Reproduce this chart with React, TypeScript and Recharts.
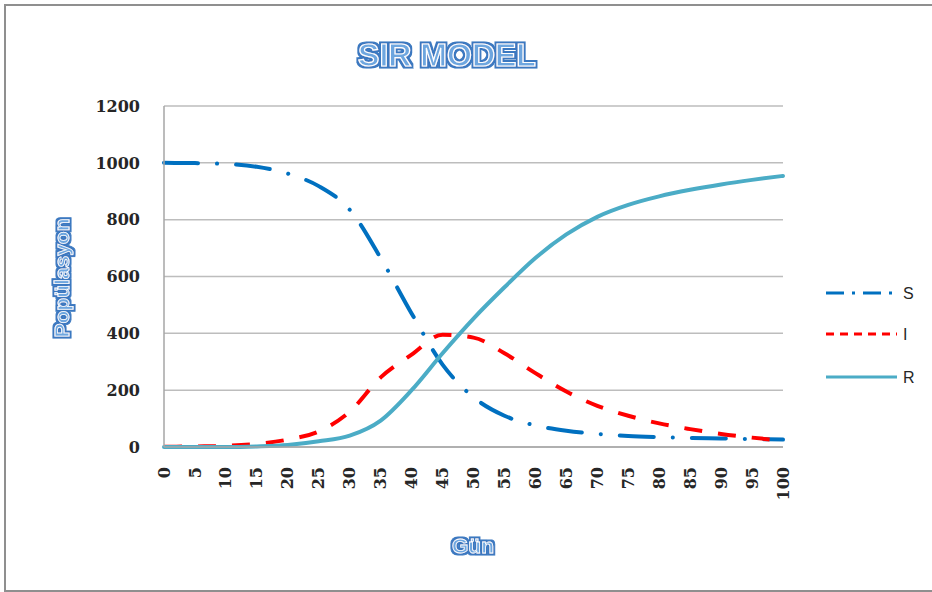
import { LineChart, Line, XAxis, YAxis, CartesianGrid } from "recharts";

const DAYS = [0, 5, 10, 15, 20, 25, 30, 35, 40, 45, 50, 55, 60, 65, 70, 75, 80, 85, 90, 95, 100];
const S_VALUES = [1000, 999, 996, 986, 962, 918, 835, 665, 470, 290, 175, 110, 76, 57, 46, 39, 35, 32, 30, 28, 26];
const I_VALUES = [1, 2, 4, 11, 26, 55, 124, 245, 325, 395, 385, 330, 260, 195, 145, 110, 83, 63, 46, 33, 22];
const R_VALUES = [0, 0, 0, 2, 7, 20, 40, 93, 200, 330, 452, 562, 665, 748, 810, 852, 882, 905, 924, 940, 954];
const Y_TICKS = [0, 200, 400, 600, 800, 1000, 1200];

const data = DAYS.map((day, i) => ({ day, S: S_VALUES[i], I: I_VALUES[i], R: R_VALUES[i] }));

const SERIES = [
  { key: "S", color: "#0070c0", dash: "34 19 0.1 19", cap: "round" as const, legendDash: "18 8 3 8" },
  { key: "I", color: "#ff0000", dash: "18 16", cap: "butt" as const, legendDash: "8 6" },
  { key: "R", color: "#4bacc6", dash: undefined, cap: "round" as const, legendDash: undefined },
];

const TICK_FONT = "'DejaVu Serif', serif";
const LABEL_FONT = "'Liberation Sans', Arial, sans-serif";

function XTick(props: { x?: number; y?: number; payload?: { value?: number } }) {
  const { x = 0, y = 0, payload } = props;
  return (
    <text
      x={x}
      y={y}
      dy="0.35em"
      transform={`rotate(-90 ${x} ${y})`}
      textAnchor="end"
      fill="#262626"
      fontSize={16}
      fontWeight={700}
      fontFamily={TICK_FONT}
    >
      {payload?.value}
    </text>
  );
}

function Overlay() {
  const legendY = [293, 334, 377];
  return (
    <svg width={932} height={592} style={{ position: "absolute", left: 0, top: 0, pointerEvents: "none" }}>
      <defs>
        <filter id="outline" x="-10%" y="-30%" width="120%" height="160%">
          <feMorphology in="SourceAlpha" operator="dilate" radius="1.6" result="d" />
          <feFlood floodColor="#3b78c0" />
          <feComposite in2="d" operator="in" result="o" />
          <feGaussianBlur in="o" stdDeviation="0.7" result="ob" />
          <feMerge>
            <feMergeNode in="ob" />
            <feMergeNode in="SourceGraphic" />
          </feMerge>
        </filter>
      </defs>
      <text
        x={447}
        y={66}
        textAnchor="middle"
        fontFamily={LABEL_FONT}
        fontWeight={700}
        fontSize={32}
        fill="#6ea6df"
        stroke="#ffffff"
        strokeWidth={1.2}
        filter="url(#outline)"
      >
        SIR MODEL
      </text>
      <text
        x={0}
        y={0}
        transform="translate(69 278) rotate(-90)"
        textAnchor="middle"
        fontFamily={LABEL_FONT}
        fontWeight={700}
        fontSize={21}
        fill="#6ea6df"
        stroke="#ffffff"
        strokeWidth={0.8}
        filter="url(#outline)"
      >
        Popülasyon
      </text>
      <text
        x={473}
        y={553}
        textAnchor="middle"
        fontFamily={LABEL_FONT}
        fontWeight={700}
        fontSize={21}
        fill="#6ea6df"
        stroke="#ffffff"
        strokeWidth={0.8}
        filter="url(#outline)"
      >
        Gün
      </text>
      {SERIES.map((s, i) => (
        <g key={s.key}>
          <line
            x1={826}
            x2={897}
            y1={legendY[i]}
            y2={legendY[i]}
            stroke={s.color}
            strokeWidth={3}
            strokeDasharray={s.legendDash}
          />
          <text x={903} y={legendY[i] + 6} fontFamily={LABEL_FONT} fontSize={16} fill="#262626">
            {s.key}
          </text>
        </g>
      ))}
    </svg>
  );
}

export default function App() {
  return (
    <div style={{ position: "absolute", left: 0, top: 0, width: 932, height: 592, background: "#fff", overflow: "hidden" }}>
      <div
        style={{
          position: "absolute",
          left: 4,
          top: 4,
          width: 960,
          height: 584,
          border: "2px solid #8f8f8f",
          boxShadow: "1px 1px 1px #d0d0d0",
        }}
      />
      <div style={{ position: "absolute", left: 0, top: 0 }}>
        <LineChart width={932} height={592} data={data} margin={{ top: 106, right: 149, bottom: 105, left: 104 }}>
          <CartesianGrid vertical={false} stroke="#bdbdbd" strokeWidth={1.5} />
          <XAxis
            dataKey="day"
            type="number"
            domain={[0, 100]}
            ticks={DAYS}
            interval={0}
            height={40}
            axisLine={{ stroke: "#a6a6a6", strokeWidth: 1.5 }}
            tickLine={false}
            tickSize={0}
            tickMargin={20}
            tick={<XTick />}
          />
          <YAxis
            domain={[0, 1200]}
            ticks={Y_TICKS}
            width={60}
            axisLine={{ stroke: "#a6a6a6", strokeWidth: 1.5 }}
            tickLine={false}
            tickSize={0}
            tickMargin={24}
            tick={{ fill: "#262626", fontSize: 16, fontWeight: 700, fontFamily: TICK_FONT }}
          />
          {SERIES.map((s) => (
            <Line
              key={s.key}
              dataKey={s.key}
              type="monotone"
              stroke={s.color}
              strokeWidth={4}
              strokeDasharray={s.dash}
              strokeLinecap={s.cap}
              dot={false}
              activeDot={false}
              isAnimationActive={false}
            />
          ))}
        </LineChart>
      </div>
      <Overlay />
    </div>
  );
}
